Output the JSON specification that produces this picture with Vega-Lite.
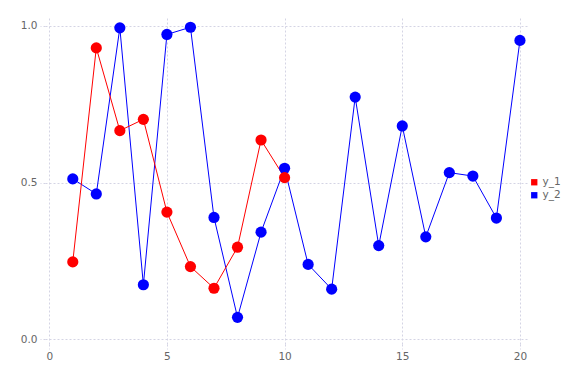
{
  "$schema": "https://vega.github.io/schema/vega-lite/v6.json",
  "autosize": "none",
  "width": 482,
  "height": 326,
  "padding": {"left": 45, "top": 18, "right": 49, "bottom": 40},
  "background": "white",
  "config": {
    "view": {"stroke": null},
    "font": "DejaVu Sans",
    "axis": {
      "domain": false,
      "grid": true,
      "gridColor": "#d4d4e4",
      "gridDash": [2, 2],
      "gridWidth": 1,
      "ticks": true,
      "tickColor": "#d4d4e4",
      "tickDash": [2, 2],
      "tickSize": 5,
      "labelColor": "#666666",
      "labelFontSize": 10.5,
      "title": null
    }
  },
  "data": {
    "values": [
      {"x": 1, "y": 0.512, "series": "y_2"},
      {"x": 2, "y": 0.464, "series": "y_2"},
      {"x": 3, "y": 0.994, "series": "y_2"},
      {"x": 4, "y": 0.174, "series": "y_2"},
      {"x": 5, "y": 0.973, "series": "y_2"},
      {"x": 6, "y": 0.996, "series": "y_2"},
      {"x": 7, "y": 0.389, "series": "y_2"},
      {"x": 8, "y": 0.070, "series": "y_2"},
      {"x": 9, "y": 0.342, "series": "y_2"},
      {"x": 10, "y": 0.546, "series": "y_2"},
      {"x": 11, "y": 0.239, "series": "y_2"},
      {"x": 12, "y": 0.160, "series": "y_2"},
      {"x": 13, "y": 0.773, "series": "y_2"},
      {"x": 14, "y": 0.299, "series": "y_2"},
      {"x": 15, "y": 0.681, "series": "y_2"},
      {"x": 16, "y": 0.327, "series": "y_2"},
      {"x": 17, "y": 0.532, "series": "y_2"},
      {"x": 18, "y": 0.521, "series": "y_2"},
      {"x": 19, "y": 0.387, "series": "y_2"},
      {"x": 20, "y": 0.954, "series": "y_2"},
      {"x": 1, "y": 0.247, "series": "y_1"},
      {"x": 2, "y": 0.930, "series": "y_1"},
      {"x": 3, "y": 0.666, "series": "y_1"},
      {"x": 4, "y": 0.702, "series": "y_1"},
      {"x": 5, "y": 0.406, "series": "y_1"},
      {"x": 6, "y": 0.232, "series": "y_1"},
      {"x": 7, "y": 0.163, "series": "y_1"},
      {"x": 8, "y": 0.294, "series": "y_1"},
      {"x": 9, "y": 0.636, "series": "y_1"},
      {"x": 10, "y": 0.516, "series": "y_1"}
    ]
  },
  "encoding": {
    "x": {
      "field": "x", "type": "quantitative",
      "scale": {"domain": [-0.18, 20.3], "nice": false, "zero": false},
      "axis": {"values": [0, 5, 10, 15, 20], "labelPadding": 2, "format": "d"}
    },
    "y": {
      "field": "y", "type": "quantitative",
      "scale": {"domain": [-0.015, 1.0255], "nice": false, "zero": false},
      "axis": {"values": [0, 0.5, 1.0], "format": ".1f", "labelPadding": 3}
    },
    "color": {
      "field": "series", "type": "nominal",
      "scale": {"domain": ["y_1", "y_2"], "range": ["#ff0000", "#0000ff"]},
      "legend": {
        "title": null,
        "orient": "none",
        "legendX": 484,
        "legendY": 159,
        "padding": 0,
        "symbolType": "square",
        "symbolSize": 40,
        "symbolStrokeWidth": 0,
        "labelFontSize": 10.5,
        "labelColor": "#666666",
        "labelOffset": 3,
        "rowPadding": 2
      }
    }
  },
  "layer": [
    {"mark": {"type": "line", "strokeWidth": 1}, "encoding": {"detail": {"field": "series"}}},
    {"mark": {"type": "circle", "size": 125, "opacity": 1}}
  ]
}
